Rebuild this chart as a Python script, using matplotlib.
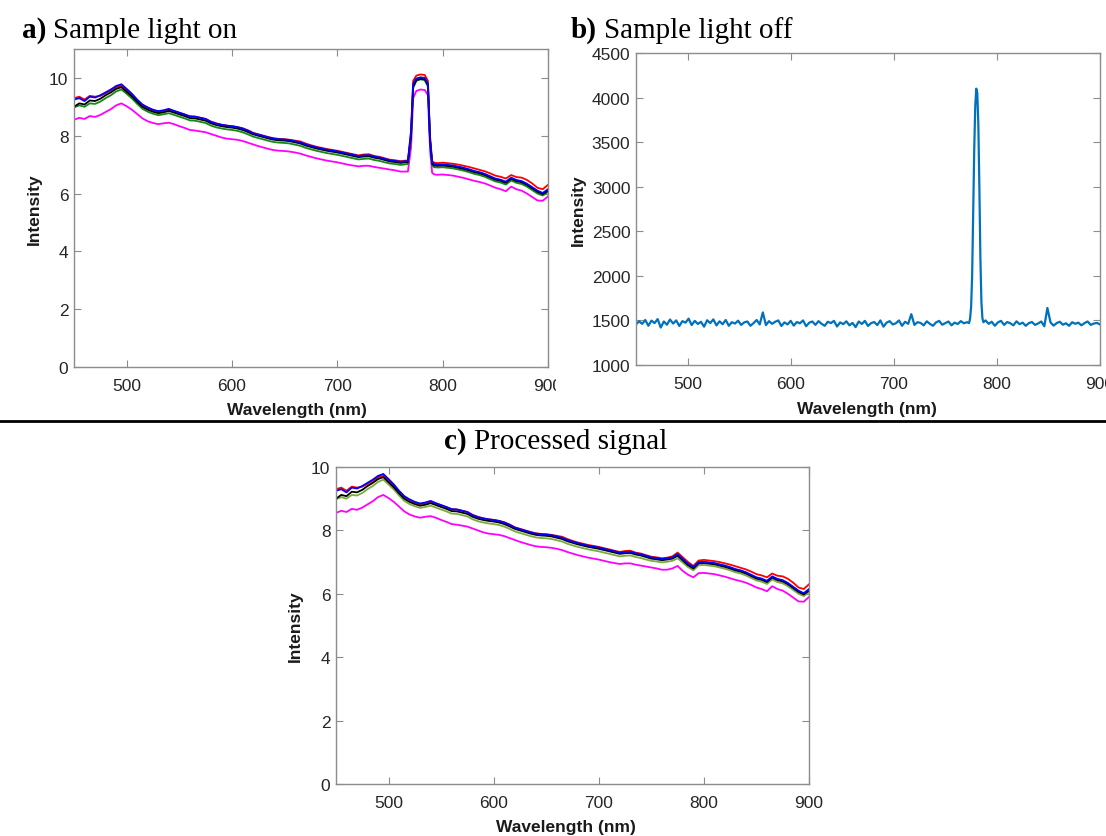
import matplotlib
matplotlib.use('Agg')
import matplotlib.pyplot as plt
from matplotlib.lines import Line2D
from matplotlib.transforms import Bbox, TransformedBbox

W, H = 1106, 837

# wavelength grid of the five spectra (nm), 5 nm steps
wl = list(range(450, 901, 5))

red = [9.3, 9.35, 9.25, 9.38, 9.35, 9.38, 9.47, 9.57, 9.68, 9.72,
       9.58, 9.42, 9.22, 9.05, 8.96, 8.88, 8.83, 8.86, 8.91, 8.85,
       8.79, 8.73, 8.67, 8.66, 8.62, 8.58, 8.49, 8.43, 8.38, 8.35,
       8.33, 8.3, 8.26, 8.19, 8.1, 8.05, 8.0, 7.95, 7.91, 7.89,
       7.88, 7.86, 7.83, 7.8, 7.73, 7.67, 7.62, 7.58, 7.54, 7.51,
       7.48, 7.44, 7.4, 7.36, 7.32, 7.35, 7.36, 7.3, 7.27, 7.22,
       7.17, 7.15, 7.12, 7.14, 7.18, 7.3, 7.15, 7.0, 6.88, 7.05,
       7.07, 7.05, 7.03, 7.0, 6.96, 6.92, 6.87, 6.82, 6.77, 6.7,
       6.62, 6.58, 6.52, 6.64, 6.57, 6.55, 6.47, 6.35, 6.2, 6.15, 6.3]
blue = [9.25, 9.3, 9.2, 9.35, 9.32, 9.4, 9.5, 9.6, 9.72, 9.78,
        9.62, 9.45, 9.25, 9.08, 8.98, 8.9, 8.85, 8.88, 8.93, 8.86,
        8.8, 8.74, 8.67, 8.66, 8.62, 8.58, 8.48, 8.42, 8.38, 8.35,
        8.33, 8.3, 8.25, 8.18, 8.09, 8.04, 7.99, 7.94, 7.9, 7.88,
        7.87, 7.85, 7.81, 7.77, 7.7, 7.65, 7.6, 7.56, 7.52, 7.49,
        7.46, 7.42, 7.38, 7.34, 7.3, 7.32, 7.33, 7.28, 7.25, 7.2,
        7.15, 7.13, 7.1, 7.12, 7.15, 7.25, 7.1, 6.95, 6.85, 7.0,
        7.01, 6.99, 6.97, 6.93, 6.89, 6.84, 6.78, 6.74, 6.68, 6.6,
        6.52, 6.48, 6.41, 6.55, 6.47, 6.43, 6.34, 6.22, 6.1, 6.02, 6.15]
black = [9.0, 9.12, 9.08, 9.22, 9.2, 9.28, 9.4, 9.5, 9.62, 9.68,
         9.52, 9.36, 9.17, 9.0, 8.9, 8.83, 8.78, 8.81, 8.86, 8.8,
         8.74, 8.68, 8.61, 8.6, 8.56, 8.52, 8.43, 8.37, 8.33, 8.3,
         8.28, 8.25, 8.2, 8.13, 8.05, 8.0, 7.95, 7.9, 7.86, 7.84,
         7.83, 7.81, 7.77, 7.73, 7.66, 7.61, 7.56, 7.52, 7.48, 7.45,
         7.42, 7.38, 7.34, 7.3, 7.26, 7.28, 7.29, 7.24, 7.21, 7.16,
         7.11, 7.09, 7.06, 7.08, 7.11, 7.2, 7.05, 6.9, 6.8, 6.96,
         6.97, 6.95, 6.93, 6.89, 6.85, 6.8, 6.74, 6.7, 6.64, 6.56,
         6.48, 6.44, 6.37, 6.51, 6.43, 6.39, 6.3, 6.18, 6.06, 5.98, 6.1]
green = [8.98, 9.05, 9.0, 9.12, 9.1, 9.18, 9.3, 9.4, 9.53, 9.6,
         9.45, 9.29, 9.1, 8.93, 8.83, 8.76, 8.71, 8.74, 8.78, 8.72,
         8.66, 8.6, 8.53, 8.52, 8.48, 8.44, 8.35, 8.29, 8.25, 8.22,
         8.2, 8.17, 8.12, 8.05, 7.97, 7.92, 7.87, 7.82, 7.78, 7.76,
         7.75, 7.73, 7.69, 7.65, 7.58, 7.53, 7.48, 7.44, 7.4, 7.37,
         7.34, 7.3, 7.26, 7.22, 7.18, 7.2, 7.21, 7.16, 7.13, 7.08,
         7.04, 7.02, 6.99, 7.01, 7.04, 7.12, 6.98, 6.84, 6.74, 6.9,
         6.91, 6.89, 6.87, 6.83, 6.79, 6.74, 6.68, 6.64, 6.58, 6.5,
         6.42, 6.38, 6.31, 6.45, 6.37, 6.33, 6.24, 6.12, 6.0, 5.93, 6.05]
magenta = [8.55, 8.62, 8.58, 8.68, 8.65, 8.72, 8.82, 8.92, 9.05, 9.12,
           9.02, 8.9, 8.75, 8.6, 8.5, 8.44, 8.4, 8.43, 8.45, 8.4,
           8.33, 8.27, 8.2, 8.18, 8.15, 8.12, 8.06, 8.0, 7.94, 7.9,
           7.88, 7.86, 7.82, 7.76, 7.7, 7.64, 7.59, 7.54, 7.5, 7.48,
           7.47, 7.45, 7.42, 7.38, 7.32, 7.27, 7.22, 7.18, 7.14, 7.11,
           7.08, 7.04, 7.0, 6.97, 6.94, 6.96, 6.96, 6.92, 6.89, 6.86,
           6.83, 6.8, 6.76, 6.76, 6.8, 6.88, 6.72, 6.6, 6.52, 6.65,
           6.66, 6.64, 6.62, 6.58, 6.54, 6.49, 6.44, 6.4, 6.35, 6.28,
           6.2, 6.15, 6.08, 6.24, 6.15, 6.1, 6.0, 5.88, 5.76, 5.75, 5.9]

# laser line that shows up in panel a (replaces 767-792 nm)
peak_wl = [767, 770, 772, 775, 779, 783, 786, 788, 790, 792]
peak_red = [7.14, 8.2, 9.9, 10.08, 10.12, 10.1, 9.9, 8.0, 7.12, 7.07]
peak_blue = [7.12, 8.1, 9.8, 9.98, 10.02, 10.0, 9.8, 7.9, 7.08, 7.02]
peak_black = [7.08, 8.0, 9.7, 9.92, 9.97, 9.95, 9.75, 7.85, 7.03, 6.97]
peak_green = [7.02, 7.95, 9.65, 9.9, 9.95, 9.92, 9.7, 7.8, 6.97, 6.91]
peak_magenta = [6.76, 7.6, 9.3, 9.55, 9.6, 9.58, 9.4, 7.5, 6.72, 6.66]

# panel b: dark spectrum
dark_left_wl = list(range(450, 772, 3))
dark_left = [1455, 1490, 1462, 1505, 1440, 1498, 1470, 1515, 1420, 1488, 1452, 1510,
             1465, 1500, 1438, 1492, 1475, 1520, 1448, 1495, 1460, 1485, 1430, 1502,
             1470, 1512, 1445, 1490, 1458, 1505, 1440, 1480, 1465, 1497, 1450, 1478,
             1488, 1440, 1470, 1505, 1455, 1590, 1448, 1492, 1462, 1485, 1500, 1438,
             1478, 1455, 1495, 1442, 1482, 1468, 1500, 1435, 1475, 1488, 1450, 1492,
             1462, 1440, 1485, 1470, 1495, 1432, 1478, 1458, 1490, 1445, 1472, 1425,
             1488, 1460, 1495, 1438, 1470, 1482, 1448, 1500, 1430, 1475, 1492, 1455,
             1468, 1500, 1440, 1485, 1462, 1570, 1450, 1480, 1472, 1445, 1490, 1462,
             1440, 1478, 1495, 1452, 1470, 1488, 1445, 1475, 1460, 1492, 1468, 1480]
laser_wl = list(range(773, 788))
laser = [1470, 1520, 1650, 2000, 2700, 3400, 3900, 4100, 4050, 3700, 3000, 2200, 1700, 1520, 1480]
dark_right_wl = list(range(789, 901, 3))
dark_right = [1500, 1462, 1485, 1440, 1478, 1495, 1450, 1482, 1468, 1445,
              1490, 1458, 1475, 1440, 1470, 1482, 1450, 1466, 1488, 1435,
              1640, 1478, 1442, 1470, 1485, 1452, 1468, 1440, 1480, 1462,
              1475, 1445, 1470, 1488, 1450, 1465, 1472, 1455]

sans = ['Liberation Sans', 'DejaVu Sans']
serif = ['Liberation Serif', 'DejaVu Serif']
plt.rcParams['font.family'] = sans


def with_peak(base, peak):
    lo, hi = peak_wl[0], peak_wl[-1]
    xs = [w for w in wl if w < lo] + peak_wl + [w for w in wl if w > hi]
    ys = [v for w, v in zip(wl, base) if w < lo] + peak + [v for w, v in zip(wl, base) if w > hi]
    return xs, ys


def px_axes(x0, y0, x1, y1):
    return fig.add_axes([x0 / W, 1 - y1 / H, (x1 - x0) / W, (y1 - y0) / H])


def style(ax, ylim, yticks, xlab_x, xlab_y, ylab_x):
    ax.set_xlim(450, 900)
    ax.set_ylim(*ylim)
    ax.set_xticks([500, 600, 700, 800, 900])
    ax.set_yticks(yticks)
    ax.tick_params(direction='in', top=True, right=True, length=5, width=0.8,
                   color='#8c8c8c', labelcolor='#262626', labelsize=12.5)
    ax.tick_params(axis='x', pad=8)
    ax.tick_params(axis='y', pad=4)
    for s in ax.spines.values():
        s.set_color('#8c8c8c')
        s.set_linewidth(1.0)
    ax.set_xlabel('Wavelength (nm)', fontweight='bold', fontsize=12.5, color='#1a1a1a', va='top')
    ax.set_ylabel('Intensity', fontweight='bold', fontsize=12.5, color='#1a1a1a')
    ax.xaxis.set_label_coords(xlab_x, xlab_y)
    ax.yaxis.set_label_coords(ylab_x, 0.5)


def panel_title(x, y, tag, text):
    t = fig.text(x / W, 1 - y / H, tag, family=serif, fontweight='bold', fontsize=21, va='baseline')
    bb = t.get_window_extent(renderer=fig.canvas.get_renderer())
    fig.text((bb.x1 + 7) / W, 1 - y / H, text, family=serif, fontsize=21, va='baseline')


fig = plt.figure(figsize=(W / 100, H / 100), dpi=100, facecolor='w')

# a) sample light on
ax_a = px_axes(74, 50, 548, 368)
for base, peak, c in [(red, peak_red, '#ff0000'), (magenta, peak_magenta, '#ff00ff'),
                      (green, peak_green, '#138a13'), (black, peak_black, '#000000'),
                      (blue, peak_blue, '#0000ff')]:
    xs, ys = with_peak(base, peak)
    ax_a.plot(xs, ys, color=c, lw=1.3)
style(ax_a, (0, 11), range(0, 11, 2), 0.47, -0.11, -0.068)
clip = TransformedBbox(Bbox([[0, 0], [556 / W, 1]]), fig.transFigure)
for lab in ax_a.get_xticklabels():
    lab.set_clip_box(clip)
    lab.set_clip_on(True)

# b) sample light off
ax_b = px_axes(636, 54, 1100, 366)
ax_b.plot(dark_left_wl + laser_wl + dark_right_wl, dark_left + laser + dark_right,
          color='#0072bd', lw=1.6)
style(ax_b, (1000, 4500), range(1000, 4501, 500), 0.498, -0.115, -0.108)

# c) processed signal
ax_c = px_axes(336, 468, 809, 785)
for ys, c in [(red, '#ff0000'), (magenta, '#ff00ff'), (green, '#7aad3a'),
              (black, '#000000'), (blue, '#0000ff')]:
    ax_c.plot(wl, ys, color=c, lw=1.3)
style(ax_c, (0, 10), range(0, 11, 2), 0.486, -0.11, -0.07)

panel_title(22, 38, 'a)', 'Sample light on')
panel_title(571, 38, 'b)', 'Sample light off')
panel_title(444, 449, 'c)', 'Processed signal')

fig.add_artist(Line2D([0, 1], [1 - 421.5 / H] * 2, transform=fig.transFigure, color='k', lw=2))

fig.savefig('out.png', dpi=100)
